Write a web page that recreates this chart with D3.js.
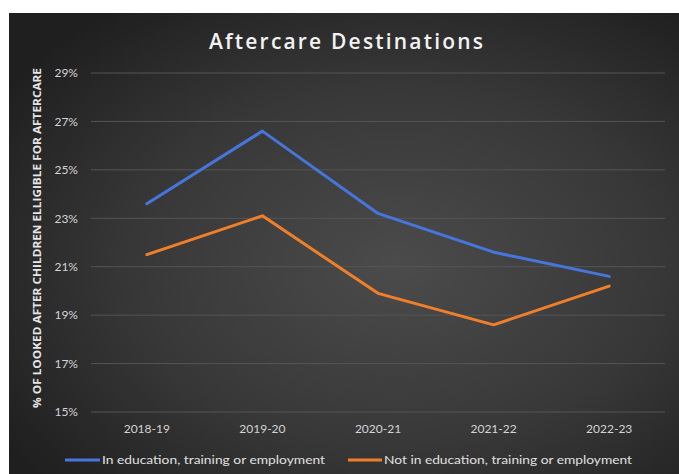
<!DOCTYPE html>
<html>
<head>
<meta charset="utf-8">
<script src="https://cdn.jsdelivr.net/npm/d3@7"></script>
<style>
  body { margin: 0; background: #fff; }
  text { font-family: "Open Sans", Lato, sans-serif; }
</style>
</head>
<body>
<script>
// Données
const years = ['2018-19', '2019-20', '2020-21', '2021-22', '2022-23'];
const inEte = [23.6, 26.6, 23.2, 21.6, 20.6];
const notInEte = [21.5, 23.1, 19.9, 18.6, 20.2];
const yTicks = [15, 17, 19, 21, 23, 25, 27, 29];
const seriesNames = ['In education, training or employment', 'Not in education, training or employment'];
const seriesColors = ['#4676dc', '#f07f2c'];

const width = 679, height = 474;

const svg = d3.select('body').append('svg')
  .attr('width', width)
  .attr('height', height);

// Fond dégradé
const defs = svg.append('defs');
const grad = defs.append('radialGradient')
  .attr('id', 'bg')
  .attr('cx', '58%').attr('cy', '55%').attr('r', '70%');
grad.append('stop').attr('offset', '0%').attr('stop-color', '#4b4b4b');
grad.append('stop').attr('offset', '55%').attr('stop-color', '#383838');
grad.append('stop').attr('offset', '100%').attr('stop-color', '#1f1f1f');

svg.append('rect')
  .attr('x', 9).attr('y', 13)
  .attr('width', width - 9).attr('height', height - 13)
  .attr('fill', 'url(#bg)');

// Échelles
const x = d3.scaleBand().domain(years).range([89, 667]);
const y = d3.scaleLinear().domain([15, 29]).range([412, 73]);

// Grille
svg.append('g')
  .selectAll('line')
  .data(yTicks)
  .join('line')
  .attr('x1', 91).attr('x2', 665)
  .attr('y1', d => y(d)).attr('y2', d => y(d))
  .attr('stroke', '#555')
  .attr('stroke-width', 1);

// Axe Y
const yAxis = svg.append('g')
  .attr('transform', 'translate(78,0)')
  .call(d3.axisLeft(y).tickValues(yTicks).tickFormat(d => d + '%').tickSize(0).tickPadding(0));
yAxis.select('.domain').remove();
yAxis.selectAll('text')
  .attr('fill', '#d4d4d4')
  .style('font-size', '12px')
  .style('font-family', 'Lato, sans-serif');

// Axe X
const xAxis = svg.append('g')
  .attr('transform', 'translate(0,424)')
  .call(d3.axisBottom(x).tickSize(0).tickPadding(0));
xAxis.select('.domain').remove();
xAxis.selectAll('text')
  .attr('fill', '#d4d4d4')
  .style('font-size', '12px')
  .style('font-family', 'Lato, sans-serif');

// Lignes
const line = d3.line()
  .x((d, i) => x(years[i]) + x.bandwidth() / 2)
  .y(d => y(d));

[inEte, notInEte].forEach((vals, i) => {
  svg.append('path')
    .datum(vals)
    .attr('fill', 'none')
    .attr('stroke', seriesColors[i])
    .attr('stroke-width', 3)
    .attr('stroke-linejoin', 'round')
    .attr('stroke-linecap', 'round')
    .attr('d', line);
});

// Titre
svg.append('text')
  .attr('x', 346).attr('y', 49)
  .attr('text-anchor', 'middle')
  .attr('fill', '#f2f2f2')
  .style('font-size', '21px')
  .style('font-weight', '600')
  .attr('textLength', 274)
  .attr('lengthAdjust', 'spacing')
  .text('Aftercare Destinations');

// Titre de l'axe Y
svg.append('text')
  .attr('transform', 'translate(41,238) rotate(-90)')
  .attr('text-anchor', 'middle')
  .attr('fill', '#e6e6e6')
  .style('font-size', '10.5px')
  .style('font-weight', '700')
  .attr('textLength', 340)
  .attr('lengthAdjust', 'spacingAndGlyphs')
  .text('% OF LOOKED AFTER CHILDREN ELLIGIBLE FOR AFTERCARE');

// Légende
const legendPos = [{ x1: 65, x2: 100, tx: 102, tl: 223 }, { x1: 348, x2: 382, tx: 384, tl: 248 }];
const legend = svg.append('g').selectAll('g')
  .data(seriesNames)
  .join('g');
legend.append('line')
  .attr('x1', (d, i) => legendPos[i].x1).attr('x2', (d, i) => legendPos[i].x2)
  .attr('y1', 460).attr('y2', 460)
  .attr('stroke', (d, i) => seriesColors[i])
  .attr('stroke-width', 3);
legend.append('text')
  .attr('x', (d, i) => legendPos[i].tx)
  .attr('y', 464)
  .attr('fill', '#e0e0e0')
  .style('font-size', '12px')
  .style('font-family', 'Lato, sans-serif')
  .attr('textLength', (d, i) => legendPos[i].tl)
  .attr('lengthAdjust', 'spacingAndGlyphs')
  .text(d => d);
</script>
</body>
</html>
